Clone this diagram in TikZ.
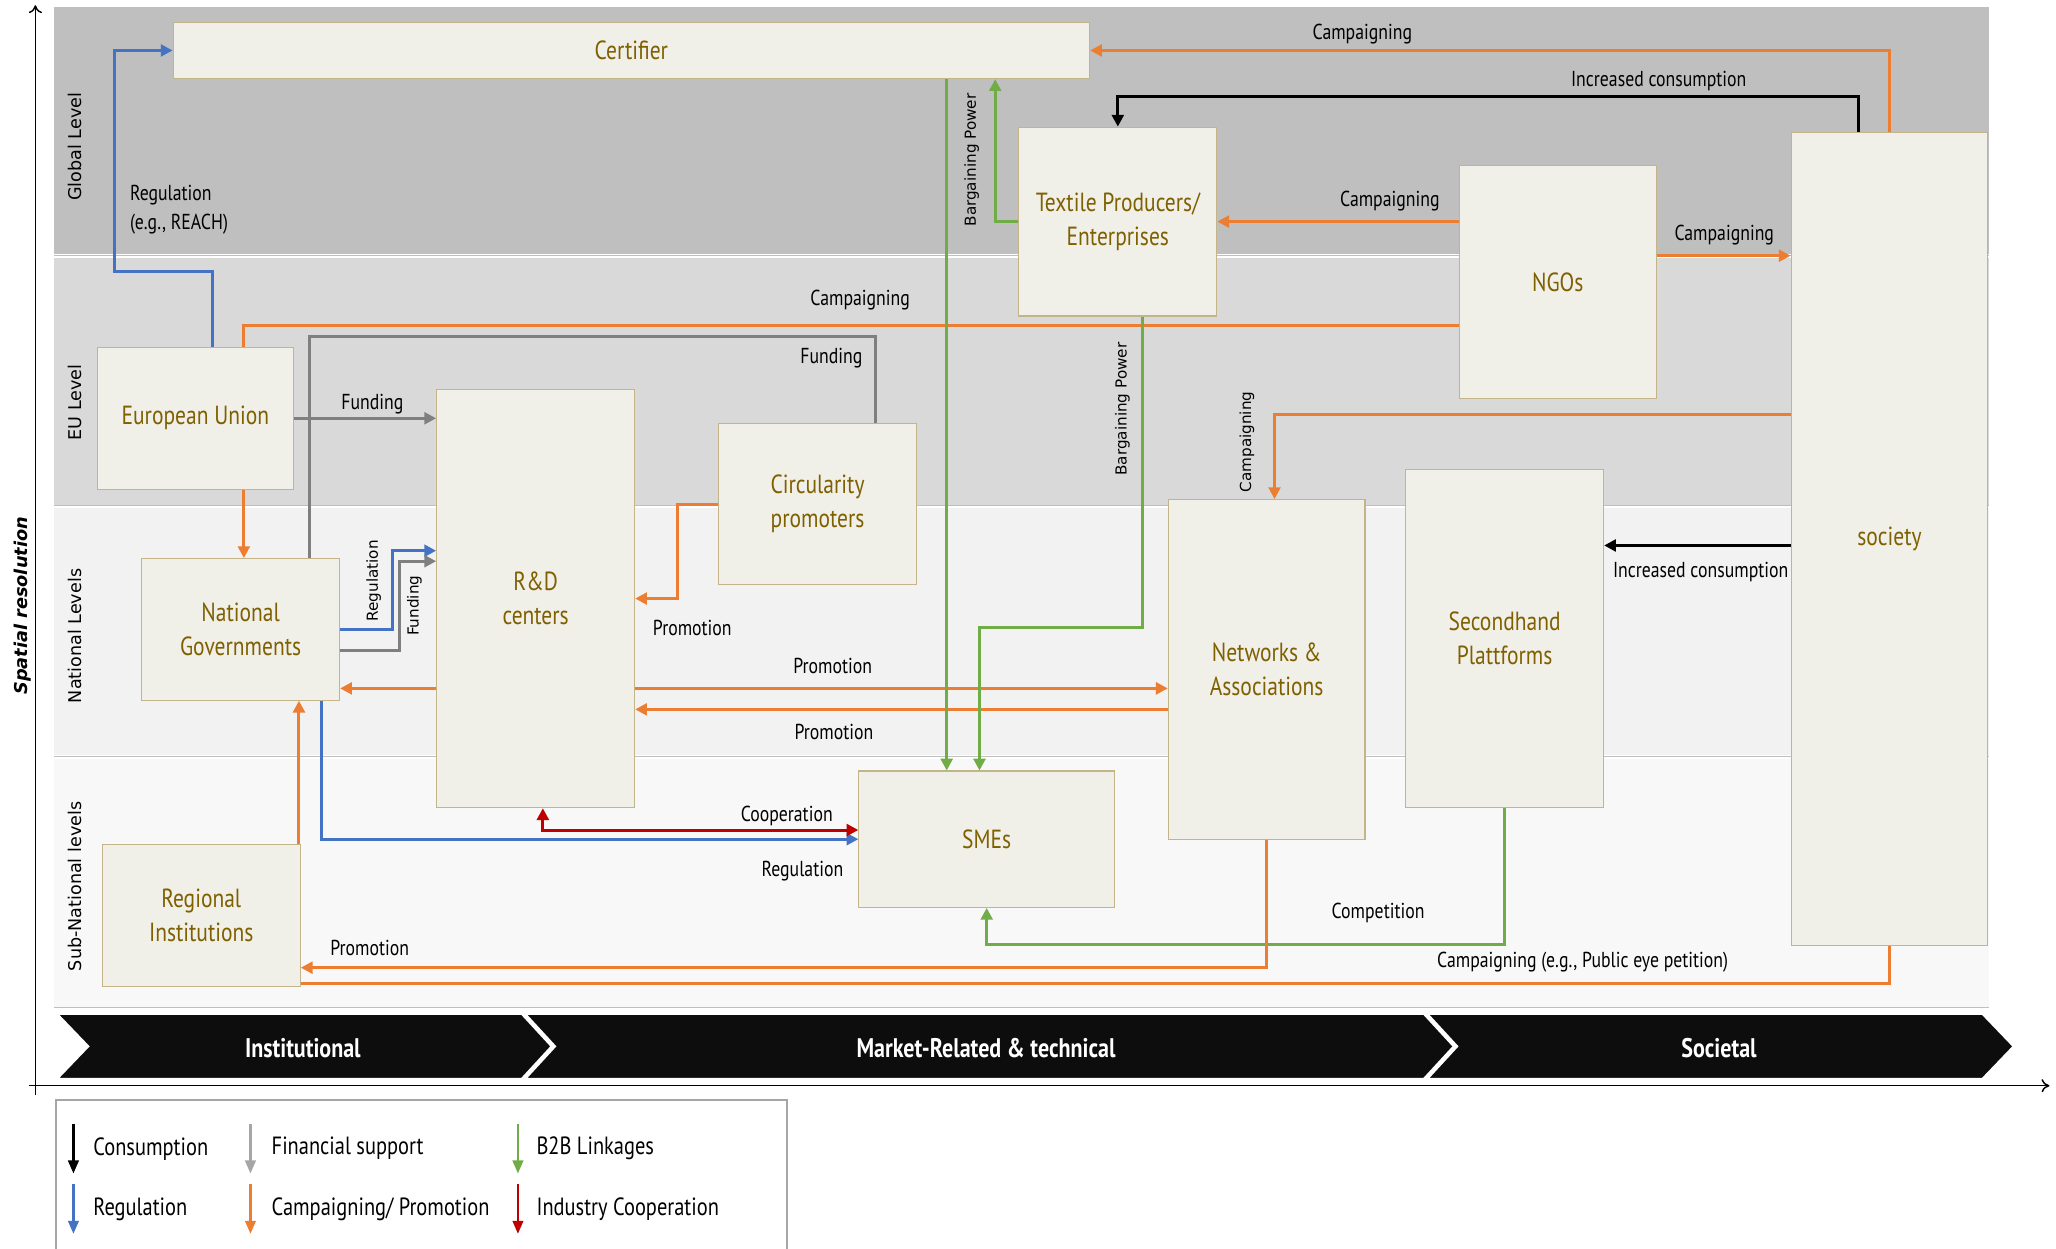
\documentclass[tikz,border=0pt]{standalone}
\usepackage{fontspec}
\setmainfont{PT Sans}[FakeStretch=0.82]
\newfontfamily\verdfont{DejaVu Sans}
\usetikzlibrary{arrows.meta,calc}
\definecolor{cOrange}{HTML}{ED7D31}
\definecolor{cBlue}{HTML}{4472C4}
\definecolor{cGreen}{HTML}{70AD47}
\definecolor{cRed}{HTML}{C00000}
\definecolor{cGrey}{HTML}{7F7F7F}
\definecolor{cLGrey}{HTML}{A6A6A6}
\definecolor{boxfill}{HTML}{F0EFE8}
\definecolor{boxborder}{HTML}{C4B48A}
\definecolor{boxtext}{HTML}{7F6000}
\definecolor{bandA}{HTML}{BFBFBF}
\definecolor{bandB}{HTML}{D9D9D9}
\definecolor{bandC}{HTML}{F2F2F2}
\definecolor{bandD}{HTML}{F8F8F8}
\newcommand\nodefont{\fontsize{20}{26}\selectfont}
\newcommand\lblfont{\fontsize{16.5}{22}\selectfont}
\newcommand\rotfont{\verdfont\fontsize{11.6}{13}\selectfont}
\begin{document}
\begin{tikzpicture}[x=1pt,y=-1pt,
  box/.style={draw=boxborder, line width=0.8pt, fill=boxfill, text=boxtext, align=center, font=\nodefont, inner sep=0pt},
  conn/.style={line width=2.3pt},
  tip/.style={-{Triangle[length=9pt,width=9pt]}},
  dtip/.style={{Triangle[length=9pt,width=9pt]}-{Triangle[length=9pt,width=9pt]}},
  camp/.style={conn, draw=cOrange},
  reg/.style={conn, draw=cBlue},
  fund/.style={conn, draw=cGrey},
  btob/.style={conn, draw=cGreen},
  coop/.style={conn, draw=cRed},
  cons/.style={conn, draw=black},
  lbl/.style={font=\lblfont, text=black, inner sep=0pt},
  rlbl/.style={font=\rotfont, text=black, inner sep=0pt, rotate=90},
  lvl/.style={font=\verdfont\fontsize{13.4}{15}\selectfont, text=black, inner sep=0pt, rotate=90},
  chev/.style={fill=black!95, draw=white, line width=2pt},
  chevtext/.style={font=\fontsize{20.5}{24}\selectfont\bfseries, text=white},
  legarrow/.style={line width=2pt, -{Triangle[length=10pt,width=8pt]}},
  legtext/.style={font=\fontsize{19}{22}\selectfont, anchor=west, inner sep=0pt}
]
\useasboundingbox (0,0) rectangle (1568,952);
\fill[white] (0,0) rectangle (1568,952);

% bands
\fill[bandA] (41,5) rectangle (1517,194);
\fill[bandB] (41,196.5) rectangle (1517,385);
\fill[bandC] (41,387.5) rectangle (1517,576);
\fill[bandD] (41,578.5) rectangle (1517,768);
\draw[black!25, line width=0.6pt] (41,194.5) -- (1517,194.5) (41,385.5) -- (1517,385.5) (41,576.5) -- (1517,576.5) (41,768) -- (1517,768);

% level labels
\node[lvl] (lglobal) at (57,112) {Global Level};
\node[lvl] (leu) at (57,307) {EU Level};
\node[lvl] (lnat) at (57,485) {National Levels};
\node[lvl] (lsub) at (57,676) {Sub-National levels};

% axes
\draw[line width=1.1pt, -{To[length=6pt,width=10pt]}] (27,835) -- (27,4);
\draw[line width=1.1pt, -{To[length=6pt,width=10pt]}] (22,828) -- (1563,828);
\node[font=\verdfont\fontsize{13.5}{15}\selectfont\bfseries\itshape, rotate=90, inner sep=0pt] (spat) at (17,462) {Spatial resolution};

% chevrons
\filldraw[chev] (43,773) -- (398,773) -- (421,798) -- (398,823) -- (43,823) -- (67,798) -- cycle;
\filldraw[chev] (400,773) -- (1086,773) -- (1109,798) -- (1086,823) -- (400,823) -- (423,798) -- cycle;
\filldraw[chev] (1088,773) -- (1512,773) -- (1536,798) -- (1512,823) -- (1088,823) -- (1111,798) -- cycle;
\node[chevtext] (cinst) at (231,799) {Institutional};
\node[chevtext] (cmark) at (752,799) {Market-Related \& technical};
\node[chevtext] (csoc) at (1311,799) {Societal};

% legend
\draw[cLGrey, line width=1.4pt, fill=white] (43,839) rectangle (600,975);
\coordinate (la1) at (56,857); \coordinate (la1e) at (56,895);
\coordinate (la2) at (191,857); \coordinate (la2e) at (191,895);
\coordinate (la3) at (395,857); \coordinate (la3e) at (395,895);
\coordinate (lb1) at (56,903); \coordinate (lb1e) at (56,941);
\coordinate (lb2) at (191,903); \coordinate (lb2e) at (191,941);
\coordinate (lb3) at (395,903); \coordinate (lb3e) at (395,941);
\draw[legarrow, black] (la1) -- (la1e);
\draw[legarrow, cLGrey] (la2) -- (la2e);
\draw[legarrow, cGreen] (la3) -- (la3e);
\draw[legarrow, cBlue] (lb1) -- (lb1e);
\draw[legarrow, cOrange] (lb2) -- (lb2e);
\draw[legarrow, cRed] (lb3) -- (lb3e);
\node[legtext] (lt1) at (71,876) {Consumption};
\node[legtext] (lt2) at (207,876) {Financial support};
\node[legtext] (lt3) at (409,876) {B2B Linkages};
\node[legtext] (lt4) at (71,922) {Regulation};
\node[legtext] (lt5) at (207,922) {Campaigning/ Promotion};
\node[legtext] (lt6) at (409,922) {Industry Cooperation};

% node centres
\path
  (481.5,38.5) coordinate (certC)
  (852.5,169) coordinate (texC)
  (1188,215) coordinate (ngoC)
  (1441,411) coordinate (socC)
  (149,319) coordinate (euC)
  (183.5,480) coordinate (natC)
  (408.5,456.5) coordinate (rdC)
  (623.5,384.5) coordinate (circC)
  (966,510.5) coordinate (netC)
  (1147.5,487) coordinate (shC)
  (752.5,640) coordinate (smeC)
  (153.5,698) coordinate (regC);

\node[box, minimum width=699pt, minimum height=43pt] (cert) at (certC) {Certifier};
\node[box, minimum width=151pt, minimum height=144pt] (tex) at (texC) {Textile Producers/\\Enterprises};
\node[box, minimum width=150pt, minimum height=178pt] (ngo) at (ngoC) {NGOs};
\node[box, minimum width=150pt, minimum height=620pt] (soc) at (socC) {society};
\node[box, minimum width=150pt, minimum height=108pt] (eu) at (euC) {European Union};
\node[box, minimum width=151pt, minimum height=108pt] (nat) at (natC) {National\\Governments};
\node[box, minimum width=151pt, minimum height=319pt] (rd) at (rdC) {R\&D\\centers};
\node[box, minimum width=151pt, minimum height=123pt] (circ) at (circC) {Circularity\\promoters};
\node[box, minimum width=150pt, minimum height=259pt] (net) at (netC) {Networks \&\\Associations};
\node[box, minimum width=151pt, minimum height=258pt] (sh) at (shC) {Secondhand\\Plattforms};
\node[box, minimum width=195pt, minimum height=104pt] (sme) at (smeC) {SMEs};
\node[box, minimum width=151pt, minimum height=108pt] (regn) at (regC) {Regional\\Institutions};

% helper points on node borders
\coordinate (rdW525) at ([yshift=-68.5pt]rd.west);
\coordinate (rdE525) at ([yshift=-68.5pt]rd.east);
\coordinate (netW541) at ([yshift=-30.5pt]net.west);
\coordinate (ngoW169) at ([yshift=46pt]ngo.west);
\coordinate (ngoE195) at ([yshift=20pt]ngo.east);
\coordinate (socW416) at ([yshift=-5pt]soc.west);
\coordinate (ngoW248) at ([yshift=-33pt]ngo.west);
\coordinate (euN186) at ([xshift=37pt]eu.north);

% connectors
\draw[reg, tip] ([xshift=13pt]eu.north) |- (87,207) |- (cert.west);
\draw[camp] (ngoW248) -| (euN186);
\draw[camp, tip] ([xshift=37pt]eu.south) -- ([xshift=2.5pt]nat.north);
\draw[fund] ([xshift=52.5pt]nat.north) -- ++(0,-169) -| ([xshift=44.5pt]circ.north);
\draw[fund, tip] (eu.east) -- (eu.east -| rd.west);
\draw[reg, tip] (nat.east) -- ++(40,0) |- ([yshift=36.5pt]rd.west);
\draw[fund, tip] ([yshift=-16pt]nat.east) -- ++(45,0) |- ([yshift=28.5pt]rd.west);
\draw[camp, tip] (rdW525) -- (rdW525 -| nat.east);
\draw[camp, tip] (rdE525) -- (rdE525 -| net.west);
\draw[camp, tip] (netW541) -- (netW541 -| rd.east);
\draw[camp, tip] (circ.west) -- ++(-31,0) |- (rd.east);
\draw[camp, tip] ([xshift=74.5pt]regn.north) -- ([xshift=44.5pt]nat.south);
\draw[reg, tip] ([xshift=61.5pt]nat.south) |- (sme.west);
\draw[coop, dtip] ([xshift=5.5pt]rd.south) |- ([yshift=7pt]sme.west);
\draw[btob, tip] ([xshift=240.5pt]cert.south) -- ([xshift=-30.5pt]sme.north);
\draw[btob, tip] (tex.west) -| ([xshift=277.5pt]cert.south);
\draw[btob, tip] ([xshift=18.5pt]tex.south) -- ++(0,237) -| ([xshift=-5.5pt]sme.north);
\draw[btob, tip] (sh.south) -- ++(0,104) -| (sme.south);
\draw[camp, tip] (net.south) |- ([yshift=-40pt]regn.east);
\draw[camp] (soc.south) |- ([yshift=-52pt]regn.east);
\draw[camp, tip] (soc.north) |- (cert.east);
\draw[cons, tip] ([xshift=-24pt]soc.north) -- ++(0,-27) -| (tex.north);
\draw[camp, tip] (ngoW169) -- (ngoW169 -| tex.east);
\draw[camp, tip] (ngoE195) -- (ngoE195 -| soc.west);
\draw[camp, tip] ([yshift=95pt]soc.west) -| ([xshift=6pt]net.north);
\draw[cons, tip] (socW416) -- (socW416 -| sh.east);

% labels
\node[lbl, anchor=west, align=left] (l1) at (99,160) {Regulation\\(e.g., REACH)};
\node[lbl] (l2) at (656,229) {Campaigning};
\node[lbl] (l3) at (634,273) {Funding};
\node[lbl] (l4) at (284,308) {Funding};
\node[rlbl] (l5) at (285,443) {Regulation};
\node[rlbl] (l6) at (316,462) {Funding};
\node[lbl] (l7) at (528,479) {Promotion};
\node[lbl] (l8) at (635,508) {Promotion};
\node[lbl] (l9) at (636,558) {Promotion};
\node[lbl] (l10) at (600,622) {Cooperation};
\node[lbl] (l11) at (612,664) {Regulation};
\node[lbl] (l12) at (282,723) {Promotion};
\node[lbl] (l13) at (1051,696) {Competition};
\node[lbl] (l14) at (1207,734) {Campaigning (e.g., Public eye petition)};
\node[lbl] (l15) at (1039,26) {Campaigning};
\node[lbl] (l16) at (1265,62) {Increased consumption};
\node[lbl] (l17) at (1060,153) {Campaigning};
\node[lbl] (l18) at (1315,179) {Campaigning};
\node[rlbl] (l19) at (951,337) {Campaigning};
\node[rlbl] (l20) at (741,122) {Bargaining Power};
\node[rlbl] (l21) at (856,312) {Bargaining Power};
\node[lbl] (l22) at (1297,436) {Increased consumption};
\end{tikzpicture}
\end{document}
